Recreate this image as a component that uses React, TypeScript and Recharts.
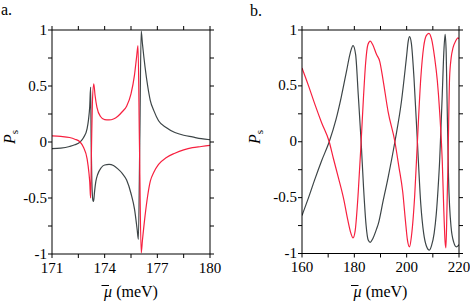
import React from "react";
import { LineChart, Line, XAxis, YAxis } from "recharts";

// ---------- Panel a data ----------
const aBlackX = [171.0, 171.5, 172.0, 172.3, 172.6, 172.8, 173.0, 173.08, 173.15, 173.2, 173.23, 173.27, 173.33, 173.37, 173.42, 173.5, 173.6, 173.8, 174.0, 174.25, 174.5, 174.75, 175.0, 175.25, 175.5, 175.7, 175.85, 175.92, 176.0, 176.08, 176.15, 176.3, 176.45, 176.6, 176.8, 177.07, 177.5, 178.0, 178.5, 179.0, 179.5, 180.0];
const aBlackY = [-0.06, -0.055, -0.04, -0.025, 0.0, 0.04, 0.12, 0.2, 0.32, 0.49, 0.0, -0.35, -0.52, -0.53, -0.45, -0.35, -0.29, -0.23, -0.205, -0.2, -0.21, -0.24, -0.28, -0.34, -0.46, -0.6, -0.78, -0.87, 0.0, 0.99, 0.88, 0.67, 0.5, 0.37, 0.28, 0.19, 0.13, 0.085, 0.06, 0.045, 0.03, 0.02];

const aRedX = [171.0, 171.5, 172.0, 172.3, 172.6, 172.8, 173.0, 173.1, 173.15, 173.2, 173.25, 173.3, 173.38, 173.45, 173.56, 173.75, 174.0, 174.25, 174.5, 174.75, 175.0, 175.25, 175.5, 175.7, 175.82, 175.9, 175.98, 176.08, 176.15, 176.3, 176.45, 176.6, 176.8, 177.07, 177.5, 178.0, 178.5, 179.0, 179.5, 180.0];
const aRedY = [0.055, 0.05, 0.04, 0.025, 0.0, -0.05, -0.15, -0.27, -0.36, -0.5, -0.05, 0.35, 0.52, 0.42, 0.31, 0.23, 0.2, 0.197, 0.205, 0.23, 0.27, 0.32, 0.43, 0.6, 0.76, 0.86, 0.0, -0.99, -0.88, -0.66, -0.48, -0.35, -0.27, -0.2, -0.14, -0.1, -0.07, -0.05, -0.04, -0.03];

// ---------- Panel b data ----------
const bBlackX = [160, 162.5, 165, 167.5, 170.4, 173, 175, 177, 178.5, 179.5, 180.5, 181.5, 182.6, 183.5, 184.5, 185.3, 186.1, 187, 188.5, 189.1, 191, 192.9, 195.5, 198, 199.9, 200.6, 201.1, 201.8, 202.8, 204.1, 205.4, 206.5, 207.5, 208.7, 209.5, 210.5, 211.3, 212.0, 212.6, 212.9, 213.6, 214.2, 214.7, 215.1, 215.4, 216.0, 217.0, 218.0, 219.0, 219.7, 220];
const bBlackY = [-0.66, -0.5, -0.33, -0.17, 0.0, 0.2, 0.4, 0.63, 0.8, 0.86, 0.78, 0.42, 0.0, -0.4, -0.75, -0.88, -0.9, -0.87, -0.78, -0.74, -0.53, -0.32, 0.0, 0.36, 0.75, 0.9, 0.94, 0.88, 0.57, 0.0, -0.56, -0.82, -0.93, -0.97, -0.93, -0.82, -0.65, -0.42, -0.17, 0.0, 0.42, 0.8, 0.96, 0.8, 0.42, -0.32, -0.77, -0.9, -0.94, -0.93, -0.92];

const bRedX = [160, 162.5, 165, 167.5, 170.4, 172, 174, 176, 177.5, 178.7, 179.5, 180.3, 181.5, 182.6, 183.5, 184.3, 185.2, 186.1, 187, 188.5, 189.7, 191, 192.9, 195.5, 197, 198.5, 199.5, 200.3, 201.1, 201.8, 203.1, 204.1, 205.4, 206.5, 207.5, 208.5, 209.5, 210.7, 211.7, 212.6, 213.6, 214.2, 214.7, 215.0, 215.4, 215.8, 216.4, 217.0, 217.7, 218.7, 219.6, 220];
const bRedY = [0.66, 0.5, 0.33, 0.17, 0.0, -0.15, -0.33, -0.52, -0.7, -0.82, -0.86, -0.8, -0.45, 0.0, 0.4, 0.7, 0.87, 0.9, 0.87, 0.78, 0.72, 0.55, 0.27, 0.0, -0.22, -0.45, -0.7, -0.88, -0.94, -0.85, -0.47, 0.0, 0.57, 0.85, 0.95, 0.97, 0.92, 0.75, 0.55, 0.27, -0.17, -0.62, -0.9, -0.95, -0.6, -0.17, 0.57, 0.75, 0.84, 0.9, 0.93, 0.92];

// ---------- Ticks ----------
const xTicksA = [171, 172.5, 174, 175.5, 177, 178.5, 180];
const xLabelsA = [171, 174, 177, 180];
const xTicksB = [160, 170, 180, 190, 200, 210, 220];
const xLabelsB = [160, 180, 200, 220];
const yTicks = [-1, -0.75, -0.5, -0.25, 0, 0.25, 0.5, 0.75, 1];
const yLabels = [-1, -0.5, 0, 0.5, 1];

const BLACK = "#3d4547";
const RED = "#f7203f";
const fstyle = { fontFamily: "Liberation Serif" };

const zip = (xs: number[], ys: number[]) => xs.map((x, i) => ({ x, y: ys[i] }));

const makeBottomTick = (labels: number[]) => (props: any) => {
  const { x, y, payload } = props;
  if (!labels.includes(payload.value)) return <g />;
  return (
    <text x={x} y={y} dy={12.7} textAnchor="middle" style={fstyle} fontSize={15} fill="#000">
      {String(payload.value)}
    </text>
  );
};

const LeftTick = (props: any) => {
  const { x, y, payload } = props;
  if (!yLabels.includes(payload.value)) return <g />;
  return (
    <text x={x} y={y} dy={4.5} textAnchor="end" style={fstyle} fontSize={15} fill="#000">
      {String(payload.value)}
    </text>
  );
};

const Empty = () => <g />;

type PanelProps = {
  left: number;
  yAxisW: number;
  rightW: number;
  bottomH: number;
  domain: [number, number];
  xTicks: number[];
  xLabels: number[];
  black: { x: number; y: number }[];
  red: { x: number; y: number }[];
};

const axisStroke = { stroke: "#000", strokeWidth: 1 };

const Panel = ({ left, yAxisW, rightW, bottomH, domain, xTicks, xLabels, black, red }: PanelProps) => (
  <div style={{ position: "absolute", left, top: 0 }}>
    <LineChart width={235} height={302} margin={{ top: 0, right: 0, bottom: 0, left: 0 }}>
      <XAxis
        xAxisId="b"
        type="number"
        dataKey="x"
        domain={domain}
        ticks={xTicks}
        interval={0}
        allowDataOverflow
        orientation="bottom"
        height={bottomH}
        tickSize={4}
        tickMargin={2}
        axisLine={axisStroke}
        tickLine={axisStroke}
        tick={makeBottomTick(xLabels)}
      />
      <XAxis
        xAxisId="t"
        type="number"
        dataKey="x"
        domain={domain}
        ticks={xTicks}
        interval={0}
        allowDataOverflow
        orientation="top"
        height={30}
        tickSize={4}
        axisLine={axisStroke}
        tickLine={axisStroke}
        tick={Empty}
      />
      <YAxis
        yAxisId="l"
        type="number"
        domain={[-1, 1]}
        ticks={yTicks}
        interval={0}
        allowDataOverflow
        orientation="left"
        width={yAxisW}
        tickSize={4}
        tickMargin={1}
        axisLine={axisStroke}
        tickLine={axisStroke}
        tick={LeftTick}
      />
      <YAxis
        yAxisId="r"
        type="number"
        domain={[-1, 1]}
        ticks={yTicks}
        interval={0}
        allowDataOverflow
        orientation="right"
        width={rightW}
        tickSize={4}
        axisLine={axisStroke}
        tickLine={axisStroke}
        tick={Empty}
      />
      <Line
        xAxisId="b"
        yAxisId="l"
        data={black}
        dataKey="y"
        type="monotone"
        stroke={BLACK}
        strokeWidth={1.2}
        dot={false}
        activeDot={false}
        isAnimationActive={false}
      />
      <Line
        xAxisId="b"
        yAxisId="l"
        data={red}
        dataKey="y"
        type="monotone"
        stroke={RED}
        strokeWidth={1.2}
        dot={false}
        activeDot={false}
        isAnimationActive={false}
      />
    </LineChart>
  </div>
);

const AxisTitle = ({ x, y }: { x: number; y: number }) => (
  <g>
    <text x={x} y={y} textAnchor="middle" style={fstyle} fontSize={16} fill="#000">
      <tspan fontStyle="italic">{"\u03BC"}</tspan>
      {" (meV)"}
    </text>
    <line x1={x - 29.5} x2={x - 22} y1={y - 11.5} y2={y - 11.5} stroke="#000" strokeWidth={1} />
  </g>
);

const PLabel = ({ x, y }: { x: number; y: number }) => (
  <text
    x={x}
    y={y}
    textAnchor="middle"
    transform={`rotate(-90 ${x} ${y})`}
    style={fstyle}
    fontSize={16}
    fill="#000"
  >
    <tspan fontStyle="italic">P</tspan>
    <tspan fontSize={11} dy={3}>s</tspan>
  </text>
);

export default function App() {
  return (
    <div style={{ position: "absolute", left: 0, top: 0, width: 470, height: 302, background: "#fff" }}>
      <Panel
        left={0}
        yAxisW={52}
        rightW={25}
        bottomH={48}
        domain={[171, 180]}
        xTicks={xTicksA}
        xLabels={xLabelsA}
        black={zip(aBlackX, aBlackY)}
        red={zip(aRedX, aRedY)}
      />
      <Panel
        left={235}
        yAxisW={67}
        rightW={11}
        bottomH={48.5}
        domain={[160, 220]}
        xTicks={xTicksB}
        xLabels={xLabelsB}
        black={zip(bBlackX, bBlackY)}
        red={zip(bRedX, bRedY)}
      />
      <svg
        width={470}
        height={302}
        style={{ position: "absolute", left: 0, top: 0, pointerEvents: "none" }}
      >
        <text x={1} y={15} style={fstyle} fontSize={16} fill="#000">a.</text>
        <text x={250} y={15.5} style={fstyle} fontSize={16} fill="#000">b.</text>
        <PLabel x={15} y={137} />
        <PLabel x={260} y={137} />
        <AxisTitle x={131} y={297} />
        <AxisTitle x={380.5} y={297} />
      </svg>
    </div>
  );
}
